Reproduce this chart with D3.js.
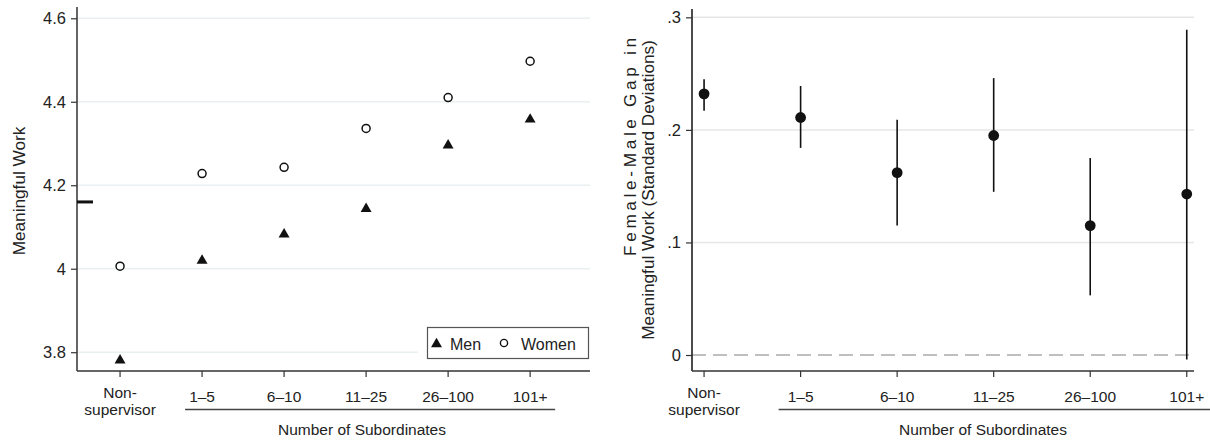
<!DOCTYPE html>
<html>
<head>
<meta charset="utf-8">
<script src="https://cdn.jsdelivr.net/npm/d3@7"></script>
<style>
  html, body { margin: 0; padding: 0; background: #fff; }
  svg { display: block; font-family: "Liberation Sans", Arial, Helvetica, sans-serif; }
</style>
</head>
<body>
<svg id="chart" width="1210" height="441"></svg>
<script>
// Supervisory categories (number of subordinates)
const categories = ["Non-supervisor", "1–5", "6–10", "11–25", "26–100", "101+"];
const categoryLabelLines = [["Non-", "supervisor"], ["1–5"], ["6–10"], ["11–25"], ["26–100"], ["101+"]];

// Left panel: mean meaningful-work score by gender
const menMeans   = [3.783, 4.022, 4.085, 4.146, 4.298, 4.360];
const womenMeans = [4.006, 4.228, 4.243, 4.336, 4.410, 4.497];
const overallMean = 4.16;
const leftTicks = [3.8, 4.0, 4.2, 4.4, 4.6];
const leftTickLabels = ["3.8", "4", "4.2", "4.4", "4.6"];

// Right panel: female-male gap (SD units) with confidence intervals
const gapEstimate = [0.232, 0.211, 0.162, 0.195, 0.115, 0.143];
const gapLower    = [0.217, 0.184, 0.115, 0.145, 0.053, -0.004];
const gapUpper    = [0.245, 0.239, 0.209, 0.246, 0.175, 0.289];
const rightTicks = [0, 0.1, 0.2, 0.3];
const rightTickLabels = ["0", ".1", ".2", ".3"];

const groupTitle = "Number of Subordinates";

const svg = d3.select("#chart");
const axisColor = "#333";
const textColor = "#222";
const idx = d3.range(categories.length);

function drawXAxis(g, x, top, bottom, left, right, underline, titleX) {
  // axis line
  g.append("line").attr("x1", left).attr("x2", right).attr("y1", bottom).attr("y2", bottom)
    .attr("stroke", axisColor).attr("stroke-width", 1.5);
  // ticks and labels
  idx.forEach(i => {
    const cx = x(i);
    g.append("line").attr("x1", cx).attr("x2", cx).attr("y1", bottom).attr("y2", bottom + 6)
      .attr("stroke", axisColor).attr("stroke-width", 1.2);
    const lines = categoryLabelLines[i];
    lines.forEach((t, k) => {
      const y = lines.length > 1 ? 398 + k * 17 : 402;
      g.append("text").attr("x", cx).attr("y", y).attr("text-anchor", "middle")
        .attr("font-size", 15.5).attr("fill", textColor).text(t);
    });
  });
  // bracket under the supervisor categories
  g.append("line").attr("x1", underline[0]).attr("x2", underline[1]).attr("y1", 409.5).attr("y2", 409.5)
    .attr("stroke", "#444").attr("stroke-width", 1.5);
  g.append("text").attr("x", titleX).attr("y", 435).attr("text-anchor", "middle")
    .attr("font-size", 15.5).attr("fill", textColor).text(groupTitle);
}

// ---------------- Left panel ----------------
{
  const left = 77, right = 590, top = 7, bottom = 371;
  const x = d3.scaleLinear().domain([-0.525, 5.73]).range([left, right]);
  const y = d3.scaleLinear().domain([3.755, 4.627]).range([bottom, top]);
  const g = svg.append("g");

  // gridlines
  g.selectAll(".grid").data(leftTicks).join("line")
    .attr("x1", left).attr("x2", right)
    .attr("y1", d => y(d)).attr("y2", d => y(d))
    .attr("stroke", "#e8f0f2").attr("stroke-width", 1.5);

  // y axis
  const yAxis = d3.axisLeft(y).tickValues(leftTicks).tickSize(6).tickPadding(5)
    .tickFormat((d, i) => leftTickLabels[i]);
  const ya = g.append("g").attr("transform", `translate(${left},0)`).call(yAxis);
  ya.select(".domain").attr("d", `M0,${top}V${bottom}`).attr("stroke", axisColor).attr("stroke-width", 1.5);
  ya.selectAll(".tick line").attr("stroke", axisColor).attr("stroke-width", 1.2);
  ya.selectAll(".tick text").attr("font-size", 16.5).attr("fill", textColor)
    .attr("font-family", "Liberation Sans, Arial, sans-serif");

  // overall mean marker on the axis
  g.append("line").attr("x1", left).attr("x2", left + 16)
    .attr("y1", y(overallMean)).attr("y2", y(overallMean))
    .attr("stroke", "#111").attr("stroke-width", 3);

  // y title
  g.append("text").attr("transform", "translate(25,191) rotate(-90)")
    .attr("text-anchor", "middle").attr("font-size", 17.2).attr("fill", textColor)
    .text("Meaningful Work");

  drawXAxis(g, x, top, bottom, left, right, [x(1) - 17, x(5) + 25], 362);

  // legend background (covers gridline)
  g.append("rect").attr("x", 418).attr("y", 322).attr("width", 178).attr("height", 44).attr("fill", "#fff");

  // women markers (hollow circles)
  g.selectAll(".women").data(idx).join("circle")
    .attr("cx", i => x(i)).attr("cy", i => y(womenMeans[i])).attr("r", 4)
    .attr("fill", "#fff").attr("stroke", "#111").attr("stroke-width", 1.5);

  // men markers (filled triangles)
  const tri = d3.symbol().type(d3.symbolTriangle).size(52);
  g.selectAll(".men").data(idx).join("path")
    .attr("d", tri)
    .attr("transform", i => `translate(${x(i)},${y(menMeans[i]) + 1})`)
    .attr("fill", "#111");

  // legend
  const lg = g.append("g");
  lg.append("rect").attr("x", 427.5).attr("y", 327.5).attr("width", 161).attr("height", 31)
    .attr("fill", "#fff").attr("stroke", "#555").attr("stroke-width", 1.2);
  lg.append("path").attr("d", tri).attr("transform", "translate(436.5,344)").attr("fill", "#111");
  lg.append("text").attr("x", 450).attr("y", 349.5).attr("font-size", 16).attr("fill", textColor).text("Men");
  lg.append("circle").attr("cx", 504).attr("cy", 343).attr("r", 3.6)
    .attr("fill", "#fff").attr("stroke", "#111").attr("stroke-width", 1.4);
  lg.append("text").attr("x", 521).attr("y", 349.5).attr("font-size", 16).attr("fill", textColor).text("Women");
}

// ---------------- Right panel ----------------
{
  const left = 692, right = 1194, top = 9, bottom = 371;
  const x = d3.scaleLinear().domain([-0.125, 5.075]).range([left, right]);
  const y = d3.scaleLinear().domain([-0.0142, 0.3074]).range([bottom, top]);
  const g = svg.append("g");

  // gridlines
  g.selectAll(".grid").data(rightTicks.filter(d => d !== 0)).join("line")
    .attr("x1", left).attr("x2", right)
    .attr("y1", d => y(d)).attr("y2", d => y(d))
    .attr("stroke", "#e6e6e6").attr("stroke-width", 1.5);

  // zero reference line
  g.append("line").attr("x1", left).attr("x2", right).attr("y1", y(0)).attr("y2", y(0))
    .attr("stroke", "#aaa").attr("stroke-width", 1.5).attr("stroke-dasharray", "14,7");

  // y axis
  const yAxis = d3.axisLeft(y).tickValues(rightTicks).tickSize(6).tickPadding(5)
    .tickFormat((d, i) => rightTickLabels[i]);
  const ya = g.append("g").attr("transform", `translate(${left},0)`).call(yAxis);
  ya.select(".domain").attr("d", `M0,${top}V${bottom}`).attr("stroke", "#111").attr("stroke-width", 1.5);
  ya.selectAll(".tick line").attr("stroke", axisColor).attr("stroke-width", 1.2);
  ya.selectAll(".tick text").attr("font-size", 16.5).attr("fill", textColor)
    .attr("font-family", "Liberation Sans, Arial, sans-serif");

  // y title (two lines)
  g.append("text").attr("transform", "translate(636,147) rotate(-90)")
    .attr("text-anchor", "middle").attr("font-size", 17.2).attr("fill", textColor)
    .attr("textLength", 218).attr("lengthAdjust", "spacing")
    .text("Female-Male Gap in");
  g.append("text").attr("transform", "translate(654,190) rotate(-90)")
    .attr("text-anchor", "middle").attr("font-size", 17.2).attr("fill", textColor)
    .text("Meaningful Work (Standard Deviations)");

  drawXAxis(g, x, top, bottom, left, right, [x(1) - 22, 1210], 983);

  // confidence intervals
  g.selectAll(".ci").data(idx).join("line")
    .attr("x1", i => x(i)).attr("x2", i => x(i))
    .attr("y1", i => y(gapLower[i])).attr("y2", i => y(gapUpper[i]))
    .attr("stroke", "#111").attr("stroke-width", 1.6);

  // point estimates
  g.selectAll(".pt").data(idx).join("circle")
    .attr("cx", i => x(i)).attr("cy", i => y(gapEstimate[i])).attr("r", 5.4)
    .attr("fill", "#111");
}
</script>
</body>
</html>
